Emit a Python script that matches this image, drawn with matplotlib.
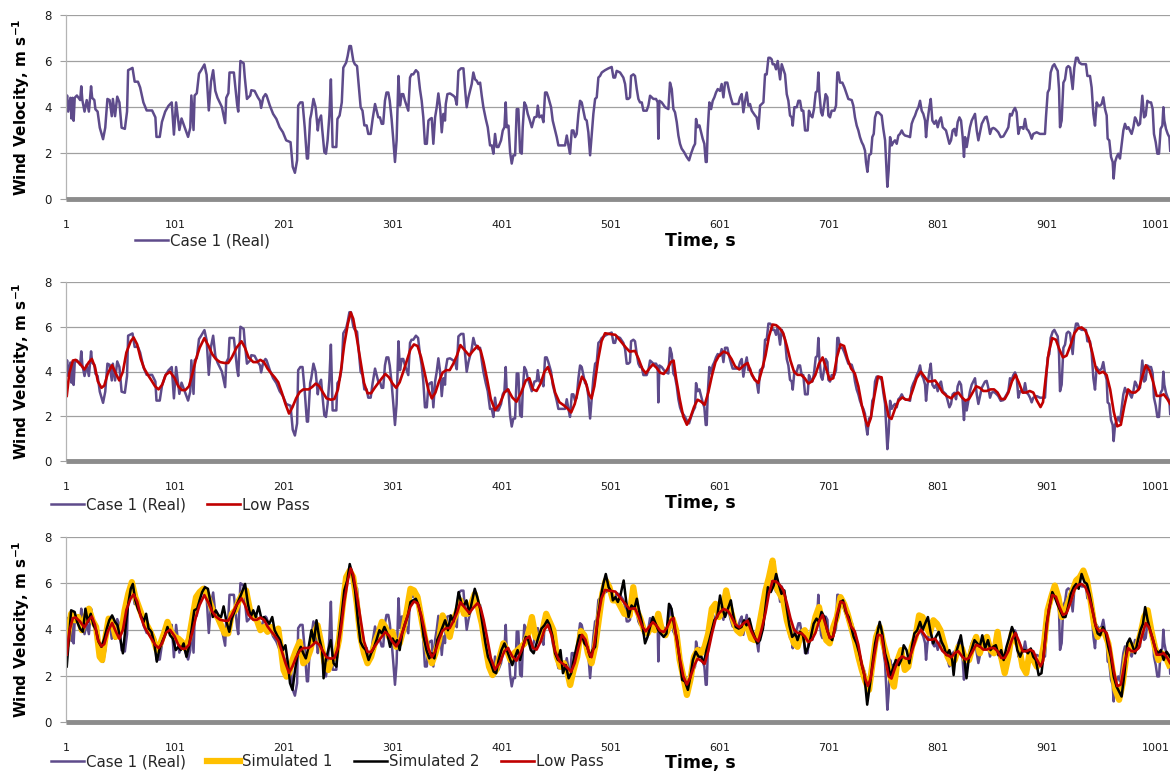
import numpy as np
import matplotlib.pyplot as plt

# measured wind record, (time s, velocity m/s)
real_series = [
    (1, 4.0), (2, 4.5), (3, 3.8), (5, 4.4), (6, 3.5), (7, 4.4), (8, 3.4), (9, 4.4), (11, 4.5), (14, 4.3),
    (15, 4.9), (16, 4.3), (18, 3.8), (20, 4.3), (22, 3.8), (24, 4.9), (25, 4.4), (27, 4.3), (28, 3.9), (30, 3.8),
    (32, 3.1), (35, 2.6), (37, 3.1), (39, 4.35), (41, 4.3), (43, 3.6), (44, 4.35), (46, 3.6), (48, 4.45), (50, 4.2),
    (52, 3.1), (55, 3.05), (57, 3.8), (58, 5.6), (62, 5.7), (64, 5.1), (67, 5.1), (69, 4.85), (72, 4.2), (75, 3.85),
    (80, 3.85), (83, 3.55), (84, 2.7), (87, 2.7), (89, 3.35), (92, 3.8), (95, 4.05), (98, 4.2), (100, 2.8), (102, 4.2),
    (105, 3.0), (107, 3.5), (110, 3.1), (113, 2.7), (115, 3.1), (116, 4.5), (118, 3.0), (119, 4.5), (121, 4.6), (123, 5.45),
    (125, 5.6), (128, 5.85), (130, 5.4), (132, 3.85), (134, 5.1), (136, 5.6), (138, 4.7), (140, 4.4), (144, 4.0), (147, 3.3),
    (148, 4.4), (150, 4.6), (151, 5.5), (155, 5.5), (158, 4.1), (159, 3.8), (161, 6.0), (164, 5.9), (165, 5.3), (167, 4.35),
    (170, 4.5), (171, 4.73), (174, 4.7), (177, 4.42), (179, 4.27), (180, 3.96), (182, 4.42), (184, 4.56), (185, 4.5), (188, 4.06),
    (191, 3.7), (194, 3.48), (197, 3.12), (200, 2.9), (203, 2.55), (207, 2.47), (209, 1.4), (211, 1.14), (213, 1.68), (214, 4.06),
    (216, 4.2), (218, 4.2), (220, 3.12), (222, 1.76), (223, 1.76), (225, 3.48), (226, 3.7), (228, 4.35), (230, 3.99), (232, 2.98),
    (233, 3.41), (235, 3.63), (236, 3.05), (238, 2.04), (239.5, 1.97), (241, 2.55), (242.6, 3.63), (244, 5.2), (245.6, 2.26), (249, 2.26),
    (250, 3.48), (252, 3.63), (254, 4.2), (255.4, 5.71), (258, 5.93), (259.4, 6.22), (261, 6.65), (262.4, 6.65), (264.6, 6.0), (266, 5.86),
    (268, 5.78), (270, 4.7), (271.3, 3.99), (273, 3.84), (274.7, 3.2), (276.8, 3.2), (278.3, 2.83), (280.5, 2.83), (282.3, 3.48), (284.5, 4.13),
    (286, 3.84), (287.5, 3.55), (289, 3.55), (290.6, 3.27), (292, 3.27), (293.6, 4.27), (295, 4.63), (296.7, 4.63), (298, 4.27), (299.7, 3.48),
    (301.3, 2.55), (302.8, 1.61), (304.3, 2.55), (306, 5.35), (307.4, 4.06), (309, 4.56), (310.4, 4.56), (312, 4.27), (315, 3.84), (316.6, 5.28),
    (318, 5.42), (319.6, 5.42), (322, 5.6), (324, 5.5), (325.7, 4.78), (327.3, 4.27), (328.8, 3.55), (330.3, 2.4), (332, 2.4), (333.5, 3.41),
    (335, 3.48), (336.5, 3.52), (338, 2.4), (339.6, 3.55), (341.1, 3.99), (342.6, 4.59), (344.2, 3.99), (345.7, 2.9), (347.2, 3.7), (348.7, 3.41),
    (349.4, 4.13), (350.9, 4.56), (353.3, 4.59), (356.4, 4.49), (357.9, 4.42), (359.5, 4.1), (361, 5.57), (363.4, 5.68), (365.6, 5.68), (367.1, 4.78),
    (368.6, 3.99), (370.2, 4.42), (373.2, 5.0), (374.7, 5.5), (376.3, 5.2), (377.8, 5.14), (379.3, 5.0), (380.9, 5.06), (382.4, 4.49), (383.9, 3.99),
    (386.1, 3.48), (387.9, 3.12), (390, 2.33), (391.6, 2.33), (393.1, 1.97), (394.6, 2.83), (396.1, 2.26), (397.7, 2.26), (400.1, 2.55), (401.7, 2.98),
    (403.2, 3.12), (404.4, 4.2), (405.3, 3.12), (406.9, 3.19), (408.4, 2.04), (409.9, 1.54), (411.4, 1.9), (413, 1.9), (414.5, 3.91), (416, 3.91),
    (417.6, 2.04), (419.1, 1.97), (420, 3.12), (421.5, 4.2), (423, 4.06), (424.6, 3.7), (426.1, 3.48), (428.3, 3.12), (430.7, 3.55), (432.8, 3.58),
    (433.8, 4.06), (435.3, 3.55), (437.4, 3.63), (439, 3.34), (440.5, 4.63), (442, 4.63), (443.5, 4.42), (446, 3.99), (447.5, 3.41), (449.7, 2.98),
    (451.2, 2.69), (452.7, 2.33), (455.8, 2.33), (458.8, 2.33), (460.4, 2.76), (461.9, 2.33), (463.4, 1.97), (465, 2.98), (466.5, 2.98), (468, 2.69),
    (469.5, 2.83), (471.1, 3.7), (472.6, 4.27), (474.1, 4.2), (475.7, 3.84), (477.2, 3.48), (478.7, 3.41), (480.2, 2.9), (481.8, 1.9), (483.3, 2.83),
    (484.8, 3.7), (486.4, 4.35), (487.9, 4.42), (489.4, 5.28), (490.9, 5.35), (492.5, 5.5), (495.5, 5.6), (498.6, 5.68), (501.6, 5.74), (503.2, 5.28),
    (504.7, 5.28), (506.2, 5.57), (509.3, 5.5), (512.3, 5.28), (513.9, 5.0), (515.4, 4.35), (516.9, 4.35), (518.4, 4.42), (519.4, 5.35), (521.5, 5.42),
    (523, 5.35), (524.6, 4.78), (526.1, 4.35), (527.6, 4.2), (529.2, 4.2), (530.7, 3.84), (533.7, 3.84), (535.3, 4.06), (536.8, 4.49), (539.9, 4.35),
    (542.3, 4.35), (543.8, 4.2), (544.4, 2.62), (545.4, 4.27), (547.5, 4.2), (550.6, 3.99), (553.6, 3.91), (555.1, 5.06), (556.7, 4.78), (558.2, 3.91),
    (559.7, 3.77), (561.3, 3.34), (562.8, 2.76), (564.3, 2.4), (565.8, 2.19), (568, 2.04), (570.4, 1.83), (572.6, 1.68), (574.4, 1.97), (576.6, 2.26),
    (578.1, 2.4), (579, 3.48), (580.5, 3.12), (582.1, 3.2), (583.6, 2.9), (585.1, 2.62), (586.6, 2.4), (587.9, 1.61), (588.8, 1.61), (589.7, 2.98),
    (591.2, 4.2), (592.8, 3.91), (594.3, 4.27), (595.8, 4.42), (597.3, 4.63), (598.9, 4.78), (601, 4.7), (602.5, 5.0), (604.1, 4.42), (605.6, 5.06),
    (607.7, 5.06), (609.3, 4.7), (610.8, 4.42), (612.6, 4.13), (614.8, 4.13), (617.8, 4.13), (619.4, 4.42), (620.9, 4.56), (622.4, 3.77), (624, 4.27),
    (625.5, 4.63), (627, 4.06), (628.5, 4.13), (630.1, 3.84), (633.1, 3.63), (634.6, 3.55), (636.2, 3.05), (637.7, 4.06), (639.2, 4.13), (640.8, 4.2),
    (642.3, 5.42), (643.8, 5.42), (645.4, 6.14), (646.9, 6.14), (648.4, 6.07), (649.3, 5.86), (650.9, 5.86), (652.4, 5.64), (653.9, 6.0), (656.1, 5.2),
    (657.6, 5.86), (659.1, 5.64), (660.6, 5.42), (662.2, 4.56), (663.7, 4.27), (665.2, 3.63), (666.8, 3.55), (667.7, 3.19), (669.2, 3.99), (671.4, 3.99),
    (672.9, 4.27), (674.4, 4.27), (675.9, 3.84), (677.4, 3.84), (679, 2.98), (681.4, 2.98), (682.6, 3.84), (684.2, 3.63), (685.7, 3.55), (687.2, 3.91),
    (688.8, 4.63), (690.3, 4.7), (691.2, 5.5), (692.1, 4.63), (693.7, 3.77), (694.9, 3.63), (696.4, 4.06), (697.9, 4.56), (699.5, 4.42), (700.4, 3.63),
    (701.9, 3.55), (703.4, 3.84), (705.9, 3.84), (707.4, 4.06), (708.6, 5.5), (709.6, 5.5), (711.1, 5.06), (713.2, 5.06), (715.1, 4.85), (717.2, 4.56),
    (718.7, 4.35), (721.8, 4.3), (723.3, 4.06), (724.8, 3.55), (726.4, 3.19), (727.9, 2.98), (729.4, 2.69), (731, 2.47), (732.5, 2.33), (734, 2.1),
    (734.9, 1.6), (736.2, 1.18), (737.7, 1.9), (739.5, 1.97), (740.7, 2.69), (742, 2.83), (743.2, 3.55), (744.7, 3.77), (746.3, 3.77), (747.8, 3.7),
    (749.3, 3.63), (750.8, 3.05), (752.4, 2.55), (753.3, 1.68), (754.5, 0.53), (755.7, 1.25), (757, 2.69), (758.5, 2.33), (760, 2.47), (761.5, 2.55),
    (763.1, 2.4), (764.6, 2.76), (766.1, 2.83), (767.7, 2.98), (769.2, 2.83), (770.7, 2.76), (773.8, 2.72), (775.3, 2.69), (776.8, 3.27), (778.4, 3.48),
    (779.9, 3.63), (781.4, 3.84), (783, 3.99), (784.5, 4.27), (786, 3.84), (787.5, 3.7), (789.1, 3.41), (790, 2.69), (791.2, 3.34), (793, 3.99),
    (794.3, 4.35), (795.8, 3.41), (797.6, 3.27), (799.2, 3.41), (800.7, 3.12), (802.2, 3.41), (803.7, 3.55), (805.3, 3.12), (806.8, 3.05), (808.3, 2.98),
    (809.9, 2.69), (811.4, 2.4), (812.9, 2.55), (814.4, 2.98), (816, 3.05), (817.5, 2.76), (819, 3.34), (820.6, 3.55), (822.1, 3.41), (823.6, 2.69),
    (824.8, 1.83), (825.8, 2.69), (827.3, 2.26), (828.8, 2.69), (830.3, 3.12), (831.9, 3.41), (833.4, 3.55), (834.9, 3.7), (836.5, 2.98), (838, 2.55),
    (839.5, 2.9), (841.1, 3.27), (842.6, 3.41), (844.1, 3.55), (845.6, 3.58), (847.1, 3.27), (848.7, 2.83), (850.2, 3.05), (851.7, 3.09), (853.3, 3.05),
    (854.8, 2.98), (856.3, 2.9), (858.5, 2.69), (860.9, 2.72), (864, 2.98), (865.5, 3.12), (867, 3.7), (868.6, 3.63), (870.1, 3.84), (871.6, 3.96),
    (873.1, 3.77), (874.7, 2.83), (876.2, 3.12), (877.7, 3.12), (879.3, 3.05), (880.8, 3.48), (882.3, 3.05), (883.8, 2.98), (885.4, 2.83), (886.9, 2.62),
    (888.4, 2.83), (891.5, 2.9), (894.5, 2.83), (897.6, 2.83), (899.1, 2.83), (900, 3.55), (901.6, 4.63), (903.1, 4.78), (904.3, 5.5), (906.2, 5.78),
    (907.7, 5.86), (909.2, 5.71), (910.8, 5.57), (912, 4.78), (912.9, 3.12), (914.4, 3.41), (916, 5.06), (917.5, 5.2), (919, 5.71), (920.5, 5.78),
    (922.1, 5.71), (923.6, 5.14), (924.5, 4.78), (926, 5.71), (927.6, 6.14), (929.1, 6.14), (930.6, 5.93), (932.8, 5.86), (934.3, 5.86), (936.7, 5.86),
    (938, 5.35), (940.4, 5.35), (941.9, 4.85), (943.5, 3.7), (945, 3.19), (946.5, 4.2), (948.1, 4.06), (949.6, 4.06), (951.1, 4.13), (952.6, 4.42),
    (954.2, 3.91), (955.7, 3.63), (956.6, 2.62), (958.1, 2.55), (959.7, 1.83), (961.2, 1.61), (962.1, 0.89), (963.4, 1.61), (964.9, 1.83), (966.4, 1.97),
    (967.9, 1.76), (969.5, 2.4), (971, 2.98), (972.5, 3.27), (974.1, 3.05), (975.6, 3.12), (977.1, 2.98), (978.6, 2.83), (980.2, 3.12), (981.7, 3.55),
    (983.2, 3.41), (984.7, 3.2), (986.3, 3.27), (988.4, 4.49), (990, 3.55), (991.5, 3.63), (993, 4.27), (994.9, 4.2), (996.4, 4.2), (997.9, 3.91),
    (999.1, 2.83), (1000.7, 2.47), (1002.2, 1.97), (1003.7, 1.97), (1005.2, 3.05), (1006.8, 3.19), (1007.7, 3.99), (1008.6, 3.41), (1010.1, 3.05), (1011.7, 2.83),
    (1013.2, 2.69), (1014, 2.1),
]

# low pass filtered record
lowpass_series = [
    (1.7, 2.91), (4, 3.92), (7.3, 4.49), (9.9, 4.52), (13.8, 4.35), (17.8, 4.09), (22, 4.42), (24.7, 4.56), (27.6, 4.2), (30.2, 3.56),
    (33.5, 3.27), (36.1, 3.37), (39.4, 3.92), (43.3, 4.28), (46.6, 3.92), (49.9, 3.6), (53.2, 3.99), (56.4, 4.85), (60.4, 5.35), (63, 5.52),
    (66.3, 5.21), (69.6, 4.56), (72.8, 4.13), (76.1, 3.85), (79.4, 3.6), (82.7, 3.34), (85.9, 3.2), (89.2, 3.41), (92.5, 3.85), (96.4, 3.99),
    (100.7, 3.7), (104, 3.34), (107.2, 3.17), (110.5, 3.17), (113.8, 3.34), (117.1, 3.92), (120.3, 4.56), (123.6, 5.06), (127.9, 5.49), (131.8, 5.14),
    (135.1, 4.78), (138.4, 4.56), (142.3, 4.42), (146.6, 4.38), (149.8, 4.38), (153.1, 4.63), (157.4, 5.06), (162, 5.35), (165.2, 5.06), (168.5, 4.63),
    (172.8, 4.42), (176.1, 4.42), (179.3, 4.52), (182.6, 4.42), (185.9, 4.13), (189.2, 3.92), (192.4, 3.74), (195.7, 3.52), (199, 3.06), (202.3, 2.55),
    (205.6, 2.12), (208.8, 2.41), (212.1, 2.8), (215.4, 3.08), (218.7, 3.2), (223.6, 3.2), (226.9, 3.31), (230.1, 3.46), (233.4, 3.34), (236.7, 3.06),
    (240, 2.8), (243.9, 2.74), (247.2, 2.77), (250.5, 3.2), (253.1, 3.99), (256.3, 5.21), (259.6, 6.14), (262.2, 6.64), (264.5, 6.36), (267.8, 5.49),
    (271.1, 4.49), (274.4, 3.49), (277.6, 3.03), (280.9, 3.03), (284.2, 3.27), (287.5, 3.49), (290.8, 3.7), (294, 3.89), (297.3, 3.74), (300.6, 3.46),
    (303.9, 3.27), (307.1, 3.52), (310.4, 3.99), (313.7, 4.49), (317, 4.99), (320.2, 5.21), (323.5, 5.14), (326.8, 4.63), (330.1, 3.92), (333.3, 3.2),
    (336.6, 2.8), (339.9, 3.06), (343.2, 3.56), (346.5, 3.95), (349.7, 4.06), (353, 4.06), (356.3, 4.35), (359.6, 4.71), (362.8, 5.18), (366.1, 4.99),
    (371, 4.71), (374.3, 4.92), (378.6, 5.14), (381.5, 4.92), (384.1, 4.42), (387.4, 3.63), (390.7, 2.77), (394.6, 2.27), (398.9, 2.55), (403.2, 3.06),
    (406.4, 3.2), (410.4, 2.84), (414.3, 2.65), (418.6, 3.06), (422.8, 3.6), (426.1, 3.7), (429.4, 3.2), (432.7, 3.13), (436.6, 3.49), (439.9, 3.99),
    (443.1, 4.2), (446.4, 3.77), (449.7, 3.06), (453.6, 2.63), (457.9, 2.48), (461.2, 2.34), (464.4, 2.17), (467.7, 2.55), (471, 3.2), (474.3, 3.77),
    (477.5, 3.56), (480.8, 2.98), (483.1, 2.8), (485.7, 3.34), (489, 4.49), (492.3, 5.35), (495.5, 5.71), (500.5, 5.67), (505, 5.64), (509.9, 5.35),
    (514.8, 5.06), (518.1, 4.89), (523, 4.92), (526.3, 4.56), (529.6, 4.13), (532.9, 3.92), (536.1, 4.13), (539.4, 4.32), (542.7, 4.17), (546, 3.95),
    (549.3, 3.89), (552.5, 4.09), (555.8, 4.42), (558.4, 4.49), (560.7, 3.7), (564, 2.77), (567.3, 1.98), (570.6, 1.62), (573.8, 1.94), (577.1, 2.41),
    (580.4, 2.74), (583.7, 2.65), (586.9, 2.51), (590.2, 3.06), (593.5, 3.8), (596.8, 4.42), (600.1, 4.71), (604.3, 4.89), (608.2, 4.81), (611.5, 4.56),
    (614.8, 4.23), (618.7, 4.09), (623, 4.28), (626.3, 4.38), (629.5, 3.95), (632.8, 3.63), (636.1, 3.49), (639.4, 4.06), (642.7, 4.71), (645.9, 5.57),
    (649.2, 6.1), (652.5, 6.07), (655.8, 5.93), (659, 5.71), (662.3, 5.14), (665.6, 4.49), (668.9, 3.99), (672.1, 3.85), (675.4, 3.85), (678.7, 3.7),
    (682, 3.46), (685.3, 3.56), (688.5, 3.85), (691.8, 4.35), (695.1, 4.63), (698.4, 4.13), (701.6, 3.63), (704.9, 3.7), (708.2, 4.63), (711.5, 5.21),
    (714.8, 5.14), (718, 4.56), (721.3, 4.13), (724.6, 3.92), (727.9, 3.34), (731.1, 2.48), (734.4, 1.84), (736.7, 1.56), (739.3, 1.91), (742.6, 2.91),
    (745.9, 3.77), (749.2, 3.74), (752.4, 2.77), (755.7, 1.98), (758.3, 1.88), (761.6, 2.34), (764.9, 2.7), (768.2, 2.84), (771.5, 2.74), (774.7, 2.74),
    (778, 3.2), (781.3, 3.7), (785.2, 3.99), (788.5, 3.77), (791.7, 3.56), (795, 3.56), (798.3, 3.6), (801.6, 3.37), (804.9, 3.08), (808.8, 2.91),
    (813.1, 2.8), (816.3, 2.98), (819.6, 3.06), (822.9, 2.84), (826.2, 2.7), (829.4, 2.77), (832.7, 3.06), (836, 3.34), (839.3, 3.27), (842.5, 3.13),
    (845.8, 3.13), (849.1, 3.2), (852.4, 3.2), (855.6, 3.06), (858.9, 2.77), (862.2, 2.77), (865.5, 3.06), (868.8, 3.56), (872, 3.85), (875.3, 3.49),
    (878.6, 3.06), (881.9, 3.06), (885.1, 3.13), (888.4, 3.06), (891.7, 2.7), (895, 2.41), (897.3, 2.63), (899.9, 3.77), (902.5, 4.85), (905.8, 5.49),
    (909.1, 5.42), (912.3, 4.99), (915.6, 4.63), (918.9, 4.71), (922.8, 5.21), (926.1, 5.71), (929.4, 5.93), (932.7, 5.97), (935.9, 5.85), (939.2, 5.49),
    (942.5, 4.85), (945.8, 4.13), (949, 3.92), (952.3, 3.99), (955.6, 3.85), (958.9, 3.2), (962.2, 2.2), (965.4, 1.55), (968.7, 1.62), (972, 2.48),
    (975.3, 3.2), (978.5, 3.06), (981.8, 3.06), (985.1, 3.2), (988.4, 3.77), (991.6, 4.28), (994.9, 4.06), (998.2, 3.56), (1001.5, 2.91), (1004.8, 2.91),
    (1008, 2.98), (1011.3, 2.77), (1013.9, 2.55),
]

# first simulated record
sim1_series = [
    (1.7, 3.4), (5.7, 4.68), (8.9, 4.4), (12.2, 4.54), (15.5, 3.97), (18.8, 4.54), (22, 4.9), (25.3, 4.4), (28.6, 4.11), (31.9, 2.82),
    (34.2, 2.68), (36.8, 3.54), (40.1, 4.47), (43.3, 4.33), (46.6, 3.68), (49.9, 3.83), (52.5, 4.11), (54.8, 4.83), (58.1, 5.54), (61.4, 6.05),
    (64.6, 5.4), (67.9, 4.97), (71.2, 4.54), (74.5, 4.25), (77.7, 3.97), (81, 3.61), (84.3, 3.11), (87.6, 3.4), (90.9, 3.83), (94.1, 4.33),
    (97.4, 3.9), (100.7, 3.68), (104, 3.61), (107.2, 3.47), (110.5, 3.18), (113.8, 3.61), (117.1, 4.54), (120.3, 5.4), (123.6, 5.62), (126.9, 5.76),
    (130.2, 5.54), (133.5, 5.11), (136.7, 4.68), (140, 4.54), (143.3, 4.18), (146.6, 3.83), (149.8, 3.83), (153.1, 4.68), (156.4, 4.83), (159.7, 5.26),
    (163, 5.54), (166.2, 5.69), (169.5, 4.9), (172.8, 4.54), (176.1, 4.4), (179.3, 3.97), (182.6, 4.11), (185.9, 3.9), (189.2, 4.11), (192.4, 3.83),
    (195.7, 4.04), (198, 3.25), (200.6, 2.25), (203.3, 1.96), (205.6, 2.11), (208.8, 2.68), (212.1, 3.11), (215.4, 3.47), (218.7, 2.54), (222, 2.68),
    (225.2, 3.11), (228.5, 3.83), (231.8, 4.18), (235.1, 3.4), (238.3, 2.54), (241.6, 2.25), (244.9, 2.68), (248.2, 2.82), (251.4, 3.54), (254.7, 4.97),
    (258, 6.26), (261.3, 6.55), (264.5, 6.26), (267.8, 5.11), (271.1, 3.68), (274.4, 2.97), (277.6, 2.54), (280.9, 2.82), (284.2, 3.4), (287.5, 3.83),
    (290.8, 4.33), (294, 4.11), (297.3, 3.68), (300.6, 3.9), (303.9, 3.25), (307.1, 3.4), (310.4, 3.97), (313.7, 4.83), (317, 5.76), (320.2, 5.69),
    (323.5, 5.4), (326.8, 4.54), (330.1, 3.68), (333.3, 2.97), (336.6, 2.54), (339.9, 2.97), (343.2, 3.54), (346.5, 4.61), (349.7, 4.11), (353, 3.68),
    (356.3, 4.4), (359.6, 4.76), (362.8, 5.26), (366.1, 4.68), (369.4, 4.68), (372.7, 5.11), (376, 5.54), (379.2, 4.9), (382.5, 4.25), (385.8, 3.25),
    (389.1, 2.39), (392.3, 2.03), (395.6, 2.25), (398.9, 2.82), (402.2, 3.4), (405.4, 3.11), (408.7, 2.68), (412, 2.97), (415.3, 3.11), (418.6, 3.25),
    (421.8, 3.4), (425.1, 3.83), (428.4, 4.54), (431.7, 3.68), (435, 3.54), (438.2, 3.97), (441.5, 4.68), (444.8, 4.33), (448.1, 3.97), (451.3, 2.82),
    (454.6, 2.39), (457.9, 2.54), (461.2, 2.11), (463.5, 1.6), (466.7, 2.25), (470, 2.82), (473.3, 3.93), (476.6, 3.75), (479.8, 2.97), (483.1, 2.54),
    (486.4, 3.25), (489.7, 4.4), (493, 5.54), (496.2, 6.12), (499.5, 5.83), (502.8, 5.26), (506.7, 5.26), (509.9, 4.97), (513.2, 4.68), (518.1, 4.61),
    (521.4, 5.83), (524.7, 4.83), (527.9, 4.47), (531.2, 3.97), (534.5, 3.83), (537.8, 4.11), (541.1, 3.97), (544.3, 4.68), (547.6, 3.97), (550.9, 3.75),
    (554.2, 4.11), (557.4, 4.47), (560.7, 3.97), (564, 2.68), (567.3, 1.96), (570.6, 1.17), (573.8, 1.82), (577.1, 2.82), (580.4, 3.11), (583.7, 2.97),
    (586.9, 3.25), (590.2, 3.83), (593.5, 4.9), (596.8, 5.11), (600.1, 4.54), (603.3, 4.76), (606.6, 5.69), (609.9, 4.97), (613.2, 4.4), (616.4, 3.97),
    (619.7, 3.83), (623, 4.18), (626.3, 4.11), (629.5, 3.61), (632.8, 3.54), (636.1, 3.97), (639.4, 4.83), (642.7, 5.69), (645.9, 6.26), (649.2, 6.98),
    (652.5, 5.83), (655.8, 5.54), (659, 5.26), (662.3, 4.4), (665.6, 3.83), (668.9, 3.4), (672.1, 3.25), (675.4, 3.83), (678.7, 3.97), (682, 3.54),
    (685.3, 3.83), (688.5, 4.54), (691.8, 4.97), (695.1, 4.25), (698.4, 3.54), (701.6, 3.4), (704.9, 4.11), (708.2, 4.54), (711.5, 5.4), (714.8, 5.11),
    (718, 4.68), (721.3, 4.11), (724.6, 3.54), (727.9, 2.82), (731.1, 2.25), (734.4, 1.75), (737.7, 1.39), (740.9, 2.54), (744.2, 3.68), (747.5, 4.11),
    (750.8, 3.4), (754.1, 2.82), (757.3, 1.96), (760.6, 1.53), (763.9, 2.68), (767.2, 3.11), (770.5, 2.25), (773.7, 2.39), (777, 3.25), (780.3, 3.68),
    (783.6, 4.61), (786.8, 4.54), (790.1, 4.11), (793.4, 3.83), (796.7, 4.4), (799.9, 4.25), (803.2, 3.97), (806.5, 3.4), (809.8, 2.82), (813.1, 2.54),
    (816.3, 2.68), (819.6, 3.25), (822.9, 3.18), (826.2, 2.68), (829.4, 2.68), (832.7, 3.25), (836, 3.68), (839.3, 2.97), (842.5, 3.47), (845.8, 3.68),
    (849.1, 3.11), (852.4, 2.97), (855.6, 3.9), (858.9, 2.82), (862.2, 2.11), (865.5, 2.82), (868.8, 3.83), (872, 3.54), (875.3, 3.25), (878.6, 2.39),
    (881.9, 2.11), (885.1, 3.04), (888.4, 2.68), (891.7, 2.39), (895, 2.54), (898.3, 3.4), (901.5, 4.83), (904.8, 5.4), (908.1, 5.9), (911.4, 5.4),
    (914.6, 4.54), (917.9, 4.83), (921.2, 5.26), (924.5, 5.69), (927.7, 6.12), (931, 6.26), (934.3, 6.55), (937.6, 6.12), (940.9, 5.26), (944.1, 4.25),
    (947.4, 3.68), (950.7, 3.97), (954, 3.83), (957.2, 3.4), (960.5, 2.39), (963.8, 1.39), (967.1, 0.96), (970.4, 1.68), (973.6, 2.82), (976.9, 3.4),
    (980.2, 3.11), (983.5, 3.25), (986.8, 3.83), (990, 4.54), (993.3, 4.83), (996.6, 3.97), (999.9, 3.25), (1003.2, 2.68), (1006.4, 2.97), (1009.7, 2.82),
    (1013, 2.46),
]

# second simulated record
sim2_series = [
    (1.7, 2.4), (5.7, 4.83), (8.9, 4.76), (11.2, 4.33), (13.8, 4.04), (16.5, 3.9), (18.8, 4.9), (21.1, 4.33), (23.7, 4.68), (26.3, 4.18),
    (28.6, 3.97), (30.9, 3.47), (33.5, 3.25), (36.1, 3.6), (38.4, 4.04), (40.7, 4.4), (43.3, 4.61), (46, 4.33), (48.3, 4.18), (50.5, 3.68),
    (53.2, 2.97), (55.8, 4.18), (58.1, 5.11), (60.4, 5.76), (62.3, 5.97), (64.6, 5.26), (66.9, 4.9), (69.6, 4.61), (72.2, 4.33), (74.5, 4.68),
    (76.8, 4.04), (79.4, 3.9), (82, 3.4), (84.3, 2.61), (86.6, 3.11), (89.2, 3.47), (91.8, 3.75), (94.1, 4.11), (96.4, 3.75), (99, 3.61),
    (101.7, 3.11), (104, 3.25), (106.3, 3.11), (108.9, 3.4), (111.5, 2.82), (113.8, 3.25), (116.1, 3.97), (118.7, 4.83), (121.3, 4.9), (123.6, 5.26),
    (125.9, 5.62), (128.5, 5.83), (131.2, 5.76), (133.5, 5.19), (135.7, 4.54), (138.4, 4.83), (141, 4.61), (143.3, 4.54), (145.6, 5.0), (148.2, 4.33),
    (150.8, 3.9), (153.1, 4.47), (155.4, 4.76), (158, 5.11), (160.7, 5.4), (163, 5.69), (165.3, 5.97), (167.9, 5.11), (170.5, 4.54), (172.8, 4.83),
    (175.1, 4.54), (177.7, 5.0), (180.3, 4.47), (182.6, 4.54), (184.9, 4.4), (187.5, 4.25), (190.2, 4.54), (192.4, 3.97), (194.7, 3.75), (197.4, 3.54),
    (200, 3.11), (202.3, 3.32), (204.6, 2.54), (206.5, 1.68), (208.8, 1.39), (211.1, 2.25), (213.7, 2.97), (216.4, 3.25), (218.7, 2.97), (221, 2.75),
    (223.6, 3.25), (226.2, 3.97), (228.5, 3.47), (230.8, 4.4), (233.4, 3.61), (236, 3.11), (237.3, 1.89), (239.3, 2.68), (241.6, 3.11), (243.9, 3.54),
    (246.5, 2.54), (249.1, 2.39), (251.4, 3.68), (253.7, 4.54), (256.3, 5.69), (259, 6.12), (261.3, 6.83), (263.6, 6.4), (266.2, 5.69), (268.8, 4.4),
    (271.1, 3.47), (273.4, 3.25), (276, 3.11), (278.6, 2.68), (280.9, 2.97), (283.2, 3.18), (285.8, 3.54), (288.5, 3.97), (290.8, 3.83), (293.1, 4.11),
    (295.7, 3.83), (298.3, 3.25), (300.6, 3.61), (302.9, 3.4), (304.8, 3.54), (307.1, 3.11), (309.4, 3.83), (312, 4.25), (314.7, 4.61), (317, 5.19),
    (319.3, 5.26), (321.9, 5.33), (324.5, 5.04), (326.8, 4.54), (329.1, 3.68), (331.7, 3.11), (334.3, 2.75), (336.6, 2.97), (338.9, 2.75), (341.5, 3.54),
    (344.2, 3.83), (346.5, 4.11), (348.8, 4.4), (351.4, 3.97), (354, 4.61), (356.3, 4.33), (358.6, 4.83), (361.2, 5.62), (363.8, 5.11), (366.1, 5.04),
    (368.4, 5.26), (371, 4.68), (373.7, 5.26), (376, 5.76), (378.3, 5.4), (380.9, 4.9), (383.5, 4.11), (385.8, 3.4), (388.1, 2.82), (390.7, 2.54),
    (393.3, 2.18), (395.6, 2.11), (397.9, 2.68), (400.5, 3.11), (403.2, 3.4), (405.4, 3.11), (407.7, 2.82), (410.4, 2.46), (413, 2.82), (415.3, 3.11),
    (417.6, 2.68), (420.2, 3.25), (422.8, 3.68), (425.1, 3.54), (427.4, 3.11), (430, 2.97), (432.7, 3.4), (434.9, 3.75), (437.2, 4.04), (439.9, 4.18),
    (442.5, 4.4), (444.8, 4.18), (447.1, 3.75), (449.7, 2.97), (452.3, 2.68), (454.6, 3.11), (456.9, 2.11), (459.5, 2.46), (462.1, 1.89), (464.4, 2.11),
    (466.7, 2.68), (469.4, 3.25), (472, 3.75), (474.3, 3.75), (476.6, 3.4), (479.2, 3.25), (481.8, 2.82), (484.1, 3.11), (486.4, 3.25), (489, 4.54),
    (491.6, 5.4), (493.9, 5.97), (496.2, 6.4), (498.8, 5.83), (501.5, 5.62), (502.7, 5.26), (505, 5.4), (507.3, 5.19), (509.9, 5.54), (512.6, 6.12),
    (514.8, 5.26), (517.1, 4.54), (519.8, 5.04), (522.4, 4.9), (524.7, 5.33), (527, 4.76), (529.6, 4.25), (532.2, 3.4), (534.5, 3.68), (536.8, 4.11),
    (539.4, 4.54), (542, 4.25), (544.3, 3.97), (546.6, 3.83), (549.3, 3.68), (551.9, 3.83), (554.2, 5.11), (556.5, 4.9), (559.1, 4.11), (561.7, 3.54),
    (564, 2.68), (566.3, 1.82), (568.9, 1.75), (571.5, 1.39), (573.8, 1.96), (576.1, 2.68), (578.7, 3.04), (581.4, 2.82), (583.7, 2.82), (586, 2.54),
    (588.6, 3.11), (591.2, 3.54), (593.5, 3.97), (595.8, 4.4), (598.4, 4.54), (601, 5.47), (603.3, 4.9), (605.6, 4.54), (608.2, 4.9), (610.9, 5.26),
    (613.2, 4.61), (615.4, 4.11), (618.1, 4.04), (620.7, 4.11), (623, 4.4), (625.3, 4.18), (627.9, 4.47), (630.5, 3.97), (632.8, 3.68), (635.1, 3.4),
    (637.7, 3.54), (640.4, 4.04), (642.7, 4.97), (644.9, 5.83), (647.6, 5.62), (650.2, 5.9), (652.5, 6.4), (654.8, 5.97), (657.4, 5.54), (660, 5.69),
    (662.3, 4.9), (664.6, 4.18), (667.2, 3.68), (669.9, 3.83), (672.1, 3.54), (674.4, 3.9), (677.1, 3.75), (679.7, 2.97), (682, 3.25), (684.3, 3.68),
    (686.9, 4.25), (689.5, 4.47), (691.8, 4.33), (694.1, 4.76), (696.7, 4.54), (699.3, 3.97), (701.6, 3.68), (703.9, 3.54), (706.5, 4.11), (709.2, 4.68),
    (711.5, 5.19), (713.8, 5.26), (716.4, 4.76), (719, 4.54), (721.3, 4.11), (723.6, 3.68), (726.2, 3.4), (728.8, 2.97), (731.1, 2.46), (733.4, 2.03),
    (736, 0.75), (738.7, 1.68), (740.9, 2.54), (743.3, 3.4), (745.9, 3.97), (747.5, 4.33), (749.8, 3.83), (752.4, 2.97), (755, 2.54), (757.3, 1.96),
    (759.6, 2.32), (762.3, 2.68), (764.9, 2.46), (767.2, 2.68), (769.5, 3.32), (772.1, 3.11), (774.7, 2.54), (777, 3.25), (779.3, 3.83), (781.9, 3.97),
    (784.5, 4.33), (786.8, 3.97), (789.1, 4.25), (791.7, 4.54), (794.4, 3.83), (796.7, 3.4), (799, 3.68), (801.6, 3.9), (804.2, 3.47), (806.5, 3.25),
    (808.8, 2.89), (811.4, 3.11), (814, 2.68), (815.3, 2.03), (817.3, 2.97), (819.6, 3.32), (821.9, 3.75), (824.5, 2.97), (827.1, 1.89), (829.4, 2.82),
    (831.7, 3.11), (834.4, 3.54), (837, 3.4), (839.3, 3.25), (841.6, 3.75), (844.2, 3.18), (846.8, 3.54), (849.1, 3.11), (851.4, 3.25), (854, 3.32),
    (856.6, 2.89), (858.9, 3.11), (861.2, 2.68), (863.8, 3.25), (866.5, 3.68), (868.8, 4.11), (871.1, 3.83), (873.7, 3.11), (876.3, 2.82), (878.6, 3.11),
    (880.9, 3.11), (883.5, 2.97), (886.1, 3.18), (888.4, 2.82), (890.7, 2.68), (893.3, 2.03), (895.9, 2.11), (898.3, 3.11), (900.6, 4.25), (903.2, 4.97),
    (905.8, 5.62), (908.1, 5.4), (910.4, 5.11), (913, 4.83), (915.6, 4.54), (917.9, 4.54), (920.2, 4.97), (922.8, 5.54), (925.5, 5.83), (927.7, 5.97),
    (930, 5.76), (932.7, 6.4), (935.3, 6.05), (937.6, 5.97), (939.9, 5.54), (942.5, 4.9), (945.1, 4.25), (947.4, 3.83), (949.7, 3.75), (952.3, 4.11),
    (954.9, 3.83), (957.2, 3.25), (959.5, 2.82), (962.2, 1.96), (964.8, 1.53), (967.1, 1.32), (969.4, 1.1), (972, 2.11), (974.6, 3.4), (976.9, 3.61),
    (979.2, 3.32), (981.8, 2.97), (984.4, 3.54), (986.7, 3.97), (989, 4.25), (991, 4.97), (993.3, 4.4), (995.6, 3.97), (998.2, 3.54), (1000.8, 3.11),
    (1003.1, 2.97), (1005.4, 3.11), (1008, 2.68), (1010.6, 3.04), (1013.9, 2.82),
]

xtick_values = [1, 101, 201, 301, 401, 501, 601, 701, 801, 901, 1001]
ytick_values = [0, 2, 4, 6, 8]

real_t, real_v = np.array(real_series).T
lp_t, lp_v = np.array(lowpass_series).T
s1_t, s1_v = np.array(sim1_series).T
s2_t, s2_v = np.array(sim2_series).T

plt.rcParams['font.family'] = 'DejaVu Sans'
plt.rcParams['mathtext.fontset'] = 'dejavusans'

W, H = 1170.0, 773.0
fig = plt.figure(figsize=(11.7, 7.73), dpi=100)

c_real = '#5e4b8b'
c_lp = '#c00000'
c_s1 = '#ffc000'
c_s2 = '#000000'


def make_panel(top, bottom):
    ax = fig.add_axes([66 / W, 1 - bottom / H, 1 - 66 / W, (bottom - top) / H])
    ax.set_xlim(1, 1013.8)
    ax.set_ylim(0, 8)
    ax.set_yticks(ytick_values)
    ax.set_xticks(xtick_values)
    ax.yaxis.grid(True, color='#a0a0a0', lw=0.9)
    ax.set_axisbelow(True)
    ax.tick_params(axis='x', length=0, pad=15, labelsize=8, labelcolor='#1a1a1a')
    ax.tick_params(axis='y', length=4.5, width=0.8, color='#a0a0a0', pad=6,
                   labelsize=8.5, labelcolor='#1a1a1a')
    for s in ['top', 'right']:
        ax.spines[s].set_visible(False)
    ax.spines['left'].set_color('#b4b4b4')
    ax.spines['left'].set_linewidth(0.9)
    ax.spines['bottom'].set_color('#8c8c8c')
    ax.spines['bottom'].set_linewidth(3.5)
    ax.spines['bottom'].set_capstyle('butt')
    fig.text(21 / W, 1 - (top + bottom) / 2 / H, r'Wind Velocity, m s$^{\mathbf{-1}}$',
             rotation=90, ha='center', va='center', fontsize=11, fontweight='bold')
    return ax


def add_time_label(y):
    fig.text(700 / W, 1 - y / H, 'Time, s', ha='center', va='center',
             fontsize=12.5, fontweight='bold')


def add_legend(ax, x, y, ncol):
    ax.legend(loc='center left', bbox_to_anchor=(x / W, 1 - y / H),
              bbox_transform=fig.transFigure, ncol=ncol, frameon=False,
              fontsize=10.8, handlelength=2.2, handletextpad=0.15,
              columnspacing=1.4, borderpad=0, borderaxespad=0,
              labelcolor='#262626')


# panel 1: measured record only
ax1 = make_panel(15, 199)
ax1.plot(real_t, real_v, color=c_real, lw=1.8, label='Case 1 (Real)')
add_legend(ax1, 135, 241, 1)
add_time_label(241)

# panel 2: measured record with low pass
ax2 = make_panel(282, 461)
ax2.plot(real_t, real_v, color=c_real, lw=1.8, label='Case 1 (Real)')
ax2.plot(lp_t, lp_v, color=c_lp, lw=1.9, label='Low Pass')
add_legend(ax2, 51, 505, 2)
add_time_label(503)

# panel 3: measured, both simulations and low pass
ax3 = make_panel(537, 722)
ax3.plot(real_t, real_v, color=c_real, lw=1.8, label='Case 1 (Real)')
ax3.plot(s1_t, s1_v, color=c_s1, lw=4.5, label='Simulated 1')
ax3.plot(s2_t, s2_v, color=c_s2, lw=1.8, label='Simulated 2')
ax3.plot(lp_t, lp_v, color=c_lp, lw=1.9, label='Low Pass')
add_legend(ax3, 51, 762, 4)
add_time_label(763)

fig.savefig('out.png', dpi=100)
